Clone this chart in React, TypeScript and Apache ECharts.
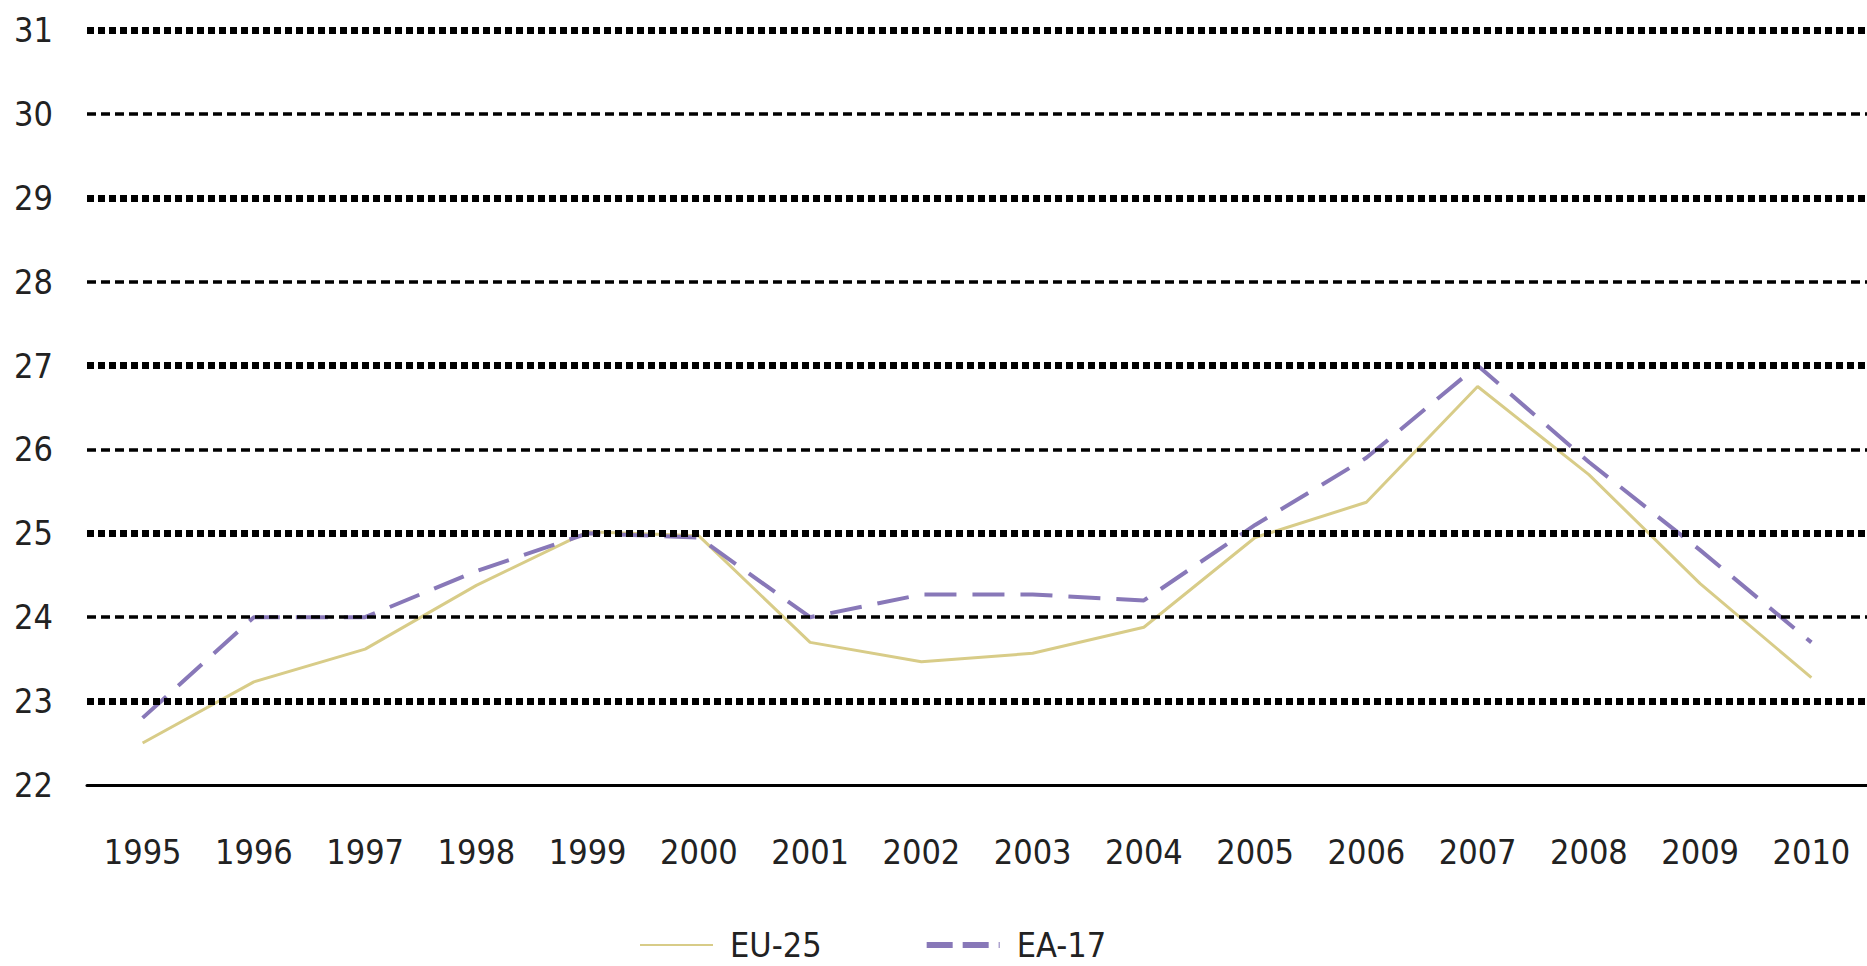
import React, { useEffect, useRef } from "react";
import * as echarts from "echarts";

const years = ["1995","1996","1997","1998","1999","2000","2001","2002","2003","2004","2005","2006","2007","2008","2009","2010"];
const eu25 = [22.5, 23.23, 23.62, 24.38, 25.02, 24.97, 23.7, 23.47, 23.57, 23.88, 24.95, 25.37, 26.75, 25.7, 24.4, 23.28];
const ea17 = [22.8, 24.0, 24.0, 24.55, 25.0, 24.95, 24.0, 24.27, 24.27, 24.2, 25.1, 25.9, 27.0, 25.85, 24.8, 23.7];
const yTicks = [23, 24, 25, 26, 27, 28, 29, 30, 31];

const FONT = "'Liberation Sans Narrow', 'Arial Narrow', 'DejaVu Sans Condensed', sans-serif";

export default function App() {
  const ref = useRef<HTMLDivElement>(null);
  useEffect(() => {
    if (!ref.current) return;
    const chart = echarts.init(ref.current, null, { renderer: "svg" });
    const gridData = yTicks.map((v) => ({
      yAxis: v,
      lineStyle: v % 2 === 1
        ? { color: "#000", width: 7, type: [7, 4] }
        : { color: "#000", width: 3.5, type: [9, 5] },
    }));
    chart.setOption({
      animation: false,
      backgroundColor: "#fff",
      grid: { left: 87, right: 0, top: 30, bottom: 181, containLabel: false, outerBoundsMode: "none" },
      legend: {
        left: 639,
        top: 928,
        padding: 0,
        itemWidth: 73,
        itemHeight: 14,
        itemGap: 102,
        itemStyle: { opacity: 0, borderWidth: 0 },
        textStyle: { fontSize: 34, lineHeight: 34, color: "#222", fontFamily: FONT, padding: [0, 0, 0, 12] },
        data: [
          { name: "EU-25" },
          { name: "EA-17", lineStyle: { width: 6, type: [26, 10] } },
        ],
      },
      xAxis: {
        type: "category",
        data: years,
        boundaryGap: true,
        axisLine: { show: true, lineStyle: { color: "#000", width: 3 } },
        axisTick: { show: false },
        axisLabel: { interval: 0, fontSize: 34, color: "#222", fontFamily: FONT, margin: 50 },
        splitLine: { show: false },
      },
      yAxis: {
        type: "value",
        min: 22,
        max: 31,
        interval: 1,
        axisLine: { show: false },
        axisTick: { show: false },
        splitLine: { show: false },
        axisLabel: { fontSize: 34, color: "#222", fontFamily: FONT, margin: 34 },
      },
      series: [
        {
          name: "grid",
          type: "line",
          data: [],
          z: 1,
          silent: true,
          markLine: {
            silent: true,
            symbol: "none",
            label: { show: false },
            data: gridData,
          },
        },
        {
          name: "EU-25",
          type: "line",
          data: eu25,
          z: 3,
          symbol: "none",
          color: "#D8CC88",
          lineStyle: { color: "#D8CC88", width: 3 },
        },
        {
          name: "EA-17",
          type: "line",
          data: ea17,
          z: 4,
          symbol: "none",
          color: "#8878B8",
          lineStyle: { color: "#8878B8", width: 4, type: [32, 16] },
        },
      ],
    });
    return () => chart.dispose();
  }, []);
  return (
    <div
      ref={ref}
      style={{ position: "fixed", left: 0, top: 0, width: 1867, height: 966 }}
    />
  );
}
